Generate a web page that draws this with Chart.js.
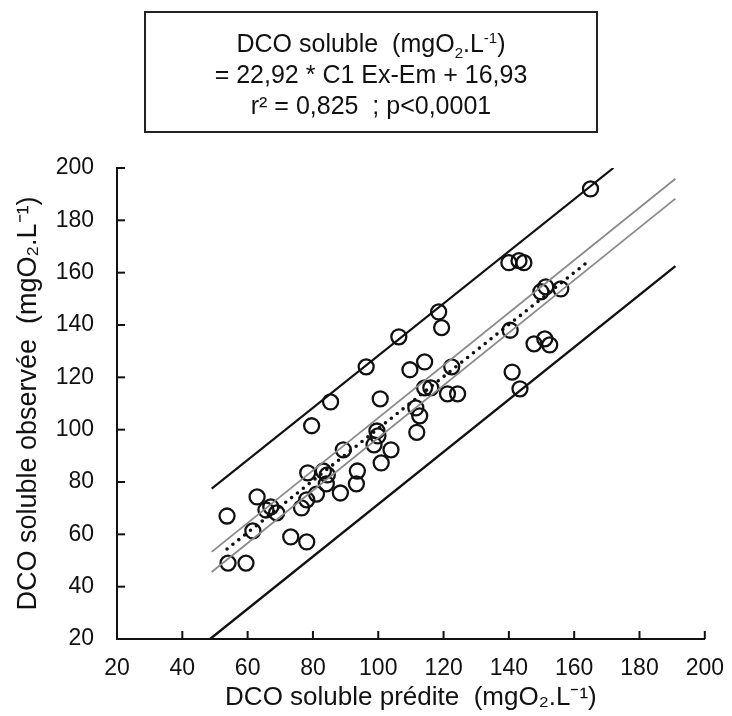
<!DOCTYPE html>
<html>
<head>
<meta charset="utf-8">
<script src="https://cdn.jsdelivr.net/npm/chart.js@4.4.1/dist/chart.umd.min.js"></script>
<style>
  html, body { margin: 0; padding: 0; background: #fff; }
  #wrap { position: relative; width: 732px; height: 716px; }
  #boite {
    position: absolute; left: 144px; top: 11px; width: 454px; height: 122px;
    border: 2px solid #222; text-align: center; box-sizing: border-box;
    font-family: 'Liberation Sans', Arial, sans-serif; font-size: 25px; color: #111;
    line-height: 31px; padding-top: 15px;
  }
  #boite sub, #boite sup { font-size: 15px; line-height: 0; }
  canvas { position: absolute; left: 0; top: 0; }
</style>
</head>
<body>
<div id="wrap">
  <canvas id="graphe" width="732" height="716"></canvas>
  <div id="boite">
    DCO soluble&nbsp; (mgO<sub>2</sub>.L<sup>-1</sup>)<br>
    = 22,92 * C1 Ex-Em + 16,93<br>
    r² = 0,825&nbsp; ; p&lt;0,0001
  </div>
</div>
<script>
// DCO soluble prédite (x) / observée (y)
const predite = [165, 140, 143.1, 144.6, 118.5, 119.4, 106.3, 96.3, 149.8, 151.3, 155.9, 140.4,
  147.7, 151, 152.5, 114.2, 109.7, 122.5, 141, 85.4, 100.6, 79.6, 99.6, 99.9, 98.7, 89.3,
  103.9, 100.9, 93.6, 93.3, 78.4, 83.2, 84.4, 84.1, 81.1, 88.4, 62.9, 78.1, 76.5, 65.6,
  67.1, 68.9, 53.7, 61.6, 73.2, 78.1, 54, 59.5, 114.2, 116.1, 121.2, 124.3, 111.5, 112.7,
  111.8, 143.4];
const observee = [192, 163.8, 164.6, 163.8, 145, 139, 135.5, 124, 152.7, 154.6, 153.8, 138,
  132.8, 134.7, 132.4, 125.9, 122.9, 124, 122, 110.6, 111.8, 101.5, 99.5, 97.6, 94.2, 92.3,
  92.3, 87.3, 84.2, 79.3, 83.5, 84.2, 82.7, 79.3, 75.4, 75.8, 74.3, 73.2, 70.1, 69.3,
  70.5, 68.2, 67, 61.3, 59, 57.1, 49, 49, 116, 116, 113.7, 113.7, 108.3, 105.3,
  99, 115.6];

// droites (extrémités)
const limSupX = [49, 172], limSupY = [77.5, 200];
const limInfX = [48.5, 191], limInfY = [20, 162.5];
const icSupX = [49, 191], icSupY = [53.3, 195.9];
const icInfX = [49, 191], icInfY = [45.6, 188.3];
const ajustX = [53.7, 165], ajustY = [54.4, 165];

const ticksX = [20, 40, 60, 80, 100, 120, 140, 160, 180, 200];
const ticksY = [20, 40, 60, 80, 100, 120, 140, 160, 180, 200];

const police = "'Liberation Sans', Arial, sans-serif";
const noir = '#111';

function points(xs, ys) {
    return xs.map((x, i) => ({ x: x, y: ys[i] }));
}

function droite(xs, ys, couleur, largeur, extra = {}) {
    return Object.assign({
        data: points(xs, ys),
        showLine: true,
        borderColor: couleur,
        borderWidth: largeur,
        pointRadius: 0,
        fill: false
    }, extra);
}

// petites graduations vers l'intérieur
const graduations = {
    id: 'graduations',
    afterDraw(chart) {
        const { ctx, chartArea, scales } = chart;
        ctx.save();
        ctx.strokeStyle = noir;
        ctx.lineWidth = 2;
        ticksX.forEach(v => {
            const px = scales.x.getPixelForValue(v);
            ctx.beginPath();
            ctx.moveTo(px, chartArea.bottom);
            ctx.lineTo(px, chartArea.bottom - 8);
            ctx.stroke();
        });
        ticksY.forEach(v => {
            const py = scales.y.getPixelForValue(v);
            ctx.beginPath();
            ctx.moveTo(chartArea.left, py);
            ctx.lineTo(chartArea.left + 8, py);
            ctx.stroke();
        });
        ctx.restore();
    }
};

new Chart(document.getElementById('graphe').getContext('2d'), {
    type: 'scatter',
    data: {
        datasets: [
            droite(limSupX, limSupY, noir, 2.2),
            droite(limInfX, limInfY, noir, 2.4),
            droite(icSupX, icSupY, '#8a8a8a', 1.8),
            droite(icInfX, icInfY, '#8a8a8a', 1.8),
            droite(ajustX, ajustY, noir, 3.6, { borderDash: [0, 7.5], borderCapStyle: 'round' }),
            {
                data: points(predite, observee),
                pointRadius: 7.5,
                pointBorderWidth: 2.3,
                pointBorderColor: noir,
                pointBackgroundColor: 'rgba(0,0,0,0)',
                showLine: false
            }
        ]
    },
    options: {
        responsive: false,
        animation: false,
        layout: { padding: { top: 168, right: 23, left: 0, bottom: 0 } },
        plugins: { legend: { display: false }, tooltip: { enabled: false } },
        scales: {
            x: {
                type: 'linear', min: 20, max: 200,
                afterBuildTicks: s => { s.ticks = ticksX.map(v => ({ value: v })); },
                afterFit: s => { s.height = 77; },
                grid: { display: false },
                border: { color: noir, width: 2 },
                ticks: { color: noir, font: { family: police, size: 23 }, padding: 8, maxRotation: 0 },
                title: {
                    display: true, text: 'DCO soluble prédite  (mgO₂.L⁻¹)',
                    color: noir, font: { family: police, size: 26 }, padding: { top: 0, bottom: 3 }
                }
            },
            y: {
                type: 'linear', min: 20, max: 200,
                afterBuildTicks: s => { s.ticks = ticksY.map(v => ({ value: v })); },
                afterFit: s => { s.width = 117; },
                grid: { display: false },
                border: { color: noir, width: 2 },
                ticks: { color: noir, font: { family: police, size: 23 }, padding: 15 },
                title: {
                    display: true, text: 'DCO soluble observée  (mgO₂.L⁻¹)',
                    color: noir, font: { family: police, size: 27 }, padding: { top: 12, bottom: 0 }
                }
            }
        }
    },
    plugins: [graduations]
});
</script>
</body>
</html>
